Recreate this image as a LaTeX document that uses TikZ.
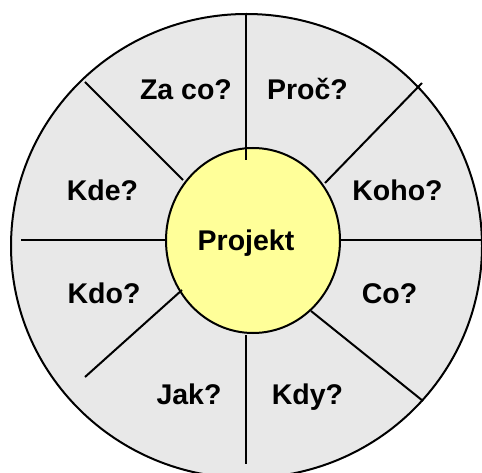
\documentclass[tikz,border=0pt]{standalone}
\usepackage{fontspec}
\setmainfont{Liberation Sans}
\definecolor{ringgray}{HTML}{E8E8E8}
\definecolor{coreyellow}{HTML}{FFFF99}
\begin{document}
\begin{tikzpicture}[x=1pt,y=-1pt,
  lbl/.style={font=\fontsize{28.5}{30}\selectfont\bfseries, inner sep=0pt, anchor=base},
  spoke/.style={line width=2pt, black},
  rim/.style={line width=2pt, draw=black}]
\useasboundingbox (0,0) rectangle (482,473);
\clip (0,0) rectangle (482,473);
% outer ring
\filldraw[rim, fill=ringgray] (246.5,246) ellipse [x radius=235.5, y radius=232];
% centre
\filldraw[rim, fill=coreyellow] (253,240.5) ellipse [x radius=87, y radius=92.5];
% spokes
\coordinate (t1) at (246,14);   \coordinate (t2) at (246,160);
\coordinate (b1) at (246,335);  \coordinate (b2) at (246,464);
\coordinate (l1) at (21,240);   \coordinate (l2) at (166,240);
\coordinate (r1) at (340,240);  \coordinate (r2) at (482,240);
\coordinate (ul1) at (85,82);   \coordinate (ul2) at (183,180);
\coordinate (ur1) at (422,83);  \coordinate (ur2) at (325,183);
\coordinate (ll1) at (182,290); \coordinate (ll2) at (85,377);
\coordinate (lr1) at (311,311); \coordinate (lr2) at (423,401);
\draw[spoke] (t1) -- (t2);
\draw[spoke] (b1) -- (b2);
\draw[spoke] (l1) -- (l2);
\draw[spoke] (r1) -- (r2);
\draw[spoke] (ul1) -- (ul2);
\draw[spoke] (ur1) -- (ur2);
\draw[spoke] (ll1) -- (ll2);
\draw[spoke] (lr1) -- (lr2);
% labels
\node[lbl] (zaco) at (186,100) {Za co?};
\node[lbl] (proc) at (307.5,100) {Proč?};
\node[lbl] (kde) at (102.5,201) {Kde?};
\node[lbl] (koho) at (397.5,201) {Koho?};
\node[lbl] (kdo) at (104,303.5) {Kdo?};
\node[lbl] (co) at (389.5,303.5) {Co?};
\node[lbl] (jak) at (189,404.5) {Jak?};
\node[lbl] (kdy) at (307.5,404.5) {Kdy?};
\node[lbl] (projekt) at (246,251) {Projekt};
\end{tikzpicture}
\end{document}
